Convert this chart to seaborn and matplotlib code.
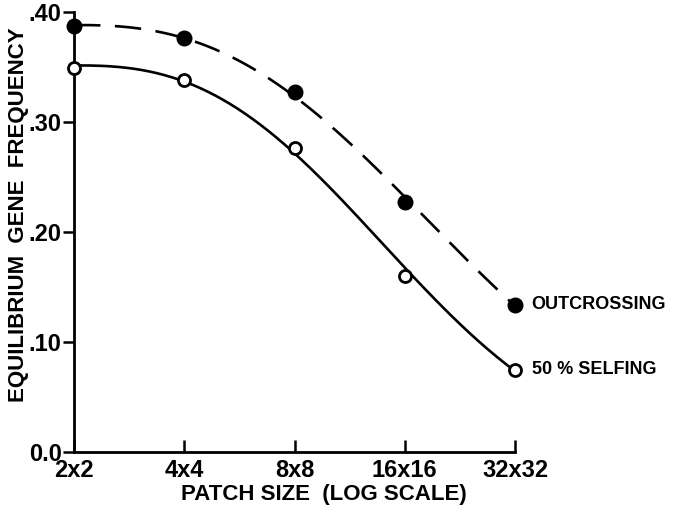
import numpy as np
import pandas as pd
import matplotlib
matplotlib.use("Agg")
import matplotlib.pyplot as plt
import seaborn as sns

# ---- data ----
patch_labels = ["2x2", "4x4", "8x8", "16x16", "32x32"]
patch_side = [2, 4, 8, 16, 32]
outcrossing = [0.387, 0.376, 0.327, 0.227, 0.134]
selfing = [0.349, 0.338, 0.276, 0.160, 0.075]
y_ticks = [0.0, 0.10, 0.20, 0.30, 0.40]
y_ticklabels = ["0.0", ".10", ".20", ".30", ".40"]
series_labels = ["OUTCROSSING", "50 % SELFING"]

sns.set_style("ticks")
plt.rcParams['font.family'] = ['Liberation Sans', 'DejaVu Sans']
for k in ["text.color", "axes.labelcolor", "xtick.color", "ytick.color", "axes.edgecolor"]:
    plt.rcParams[k] = "black"

fig = plt.figure(figsize=(6.77, 5.12), dpi=100)
ax = fig.add_axes([74/677, 60/512, 441/677, 440/512])

xlog = np.log2(patch_side)
xi = xlog - xlog[0]
pts = pd.DataFrame({"x": np.concatenate([xlog, xlog]),
                    "y": outcrossing + selfing,
                    "series": ["out"]*5 + ["self"]*5})


def fit_curve(y):
    """Least-squares fit of y = a*exp(-b*x^p) by grid search."""
    y = np.asarray(y)
    best = None
    for p in np.linspace(1.5, 3.5, 81):
        for a in np.linspace(y.max(), y.max() * 1.05, 51):
            lr = np.log(y / a)
            xp = xi ** p
            b = -np.sum(lr * xp) / np.sum(xp ** 2)
            err = np.sum((a * np.exp(-b * xp) - y) ** 2)
            if best is None or err < best[0]:
                best = (err, a, b, p)
    _, a, b, p = best
    xs = np.linspace(0, xi[-1], 300)
    return xs + xlog[0], a * np.exp(-b * xs ** p)


xs, fit_out = fit_curve(outcrossing)
_, fit_self = fit_curve(selfing)
curves = pd.DataFrame({"x": xs, "out": fit_out, "self": fit_self})

sns.lineplot(data=curves, x="x", y="out", ax=ax, color="black", lw=1.9,
             linestyle=(0, (10, 5.5)))
sns.lineplot(data=curves, x="x", y="self", ax=ax, color="black", lw=1.9)

sns.scatterplot(data=pts[pts.series == "out"], x="x", y="y", ax=ax,
                color="black", s=100, edgecolor="black", linewidth=1.5, zorder=5,
                clip_on=False)
sns.scatterplot(data=pts[pts.series == "self"], x="x", y="y", ax=ax,
                facecolor="white", s=75, edgecolor="black", linewidth=2, zorder=5,
                clip_on=False)

ax.set_xlim(xlog[0], xlog[-1])
ax.set_ylim(0, 0.40)
ax.set_xticks(xlog)
ax.set_xticklabels(patch_labels)
ax.set_yticks(y_ticks)
ax.set_yticklabels(y_ticklabels)
ax.tick_params(axis="y", direction="out", length=8, width=1.8, labelsize=17, pad=1)
ax.tick_params(axis="x", direction="in", length=9, width=1.8, labelsize=17, pad=5)
for lab in ax.get_xticklabels() + ax.get_yticklabels():
    lab.set_fontweight("bold")

sns.despine(ax=ax)
for s in ["left", "bottom"]:
    ax.spines[s].set_linewidth(2)

ax.set_xlabel("PATCH SIZE  (LOG SCALE)", fontsize=16, fontweight="bold")
ax.xaxis.set_label_coords(250/441, -0.072)
ax.set_ylabel("EQUILIBRIUM  GENE  FREQUENCY", fontsize=16, fontweight="bold")
ax.yaxis.set_label_coords(-0.103, 0.54)

for yv, lab in zip([outcrossing[-1], selfing[-1]], series_labels):
    ax.annotate(lab, xy=(xlog[-1], yv), xytext=(12, 0), textcoords="offset points",
                fontsize=13, fontweight="bold", va="center", ha="left",
                annotation_clip=False)

fig.savefig("out.png", dpi=100)
